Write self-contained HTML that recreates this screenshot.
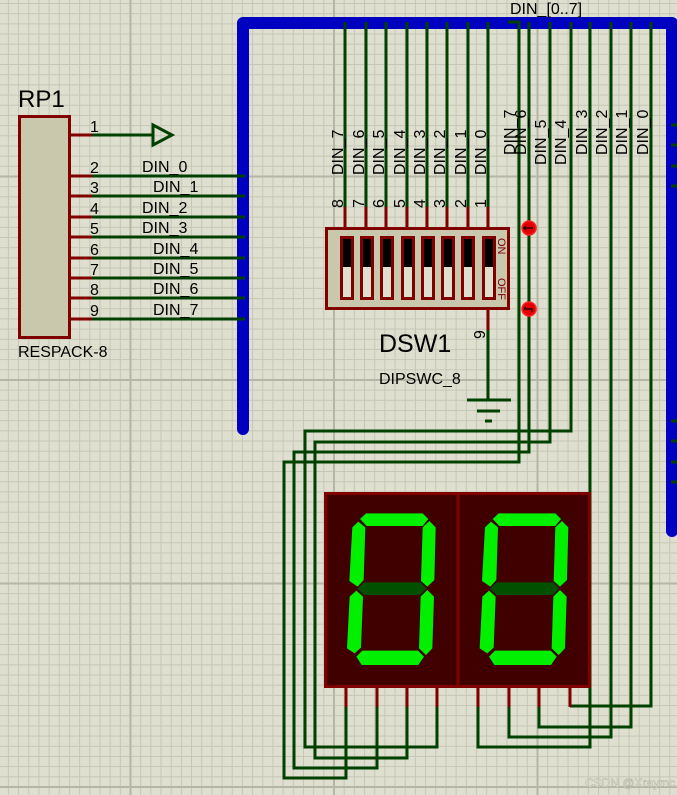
<!DOCTYPE html>
<html><head><meta charset="utf-8"><style>
html,body{margin:0;padding:0;background:#dfdfd0;}
svg{display:block;}
text{font-family:"Liberation Sans",Arial,sans-serif;fill:#000;}
</style></head><body>
<svg width="677" height="795" viewBox="0 0 677 795" xmlns="http://www.w3.org/2000/svg">
<defs>
<pattern id="mn" patternUnits="userSpaceOnUse" x="7.9" y="3" width="10.175" height="10.175">
<path d="M0.5 0V10.175M0 0.5H10.175" stroke="#c6c6b6" stroke-width="1" fill="none"/>
</pattern>
<pattern id="mj" patternUnits="userSpaceOnUse" x="129.5" y="175.5" width="203.5" height="203.5">
<path d="M1 0V203.5M0 1H203.5" stroke="#b6b6a6" stroke-width="2" fill="none"/>
</pattern>
</defs>
<rect width="677" height="795" fill="#dfdfd0"/>
<rect width="677" height="795" fill="url(#mn)"/>
<rect width="677" height="795" fill="url(#mj)"/>

<!-- bus -->
<path d="M243 429 L243 23 L672 23 L672 531" stroke="#0000c0" stroke-width="12" fill="none" stroke-linejoin="round" stroke-linecap="round"/>
<text x="510" y="14" font-size="16">DIN_[0..7]</text>

<g stroke="#004000" stroke-width="3" fill="none">
<!-- right stubs -->
<path d="M671 125H677M671 145H677M671 166H677M671 186H677M671 421H677M671 441H677M671 462H677M671 482H677"/>
<!-- RP1 wires -->
<path d="M92 135H152"/>
<path d="M92 176H245M92 196H245M92 217H245M92 237H245M92 258H245M92 278H245M92 298H245M92 319H245"/>
<!-- DSW top wires -->
<path d="M345 22V207M366 22V207M386 22V207M407 22V207M427 22V207M447 22V207M468 22V207M488 22V207"/>
<!-- ground -->
<path d="M488 330V400M467 400H511M477 411H500M485 421H492"/>
<!-- right group -->
<path d="M508 22H519V462H284V778H346V707"/>
<path d="M529 22V452H294V768H377V707"/>
<path d="M550 22V442H315V758H407V707"/>
<path d="M571 22V431H305V747H437V707"/>
<path d="M590 22V747H478V707"/>
<path d="M611 22V737H509V707"/>
<path d="M631 22V727H539V707"/>
<path d="M651 22V706H570"/>
</g>
<!-- arrow -->
<path d="M153 125L172 135L153 145Z" fill="none" stroke="#004000" stroke-width="3" stroke-linejoin="miter"/>

<!-- RP1 -->
<rect x="19.5" y="116.5" width="50" height="221" fill="#c9c8ad" stroke="#800000" stroke-width="3"/>
<g stroke="#800000" stroke-width="3">
<path d="M71 135H92M71 176H92M71 196H92M71 217H92M71 237H92M71 258H92M71 278H92M71 298H92M71 319H92"/>
</g>
<text x="18" y="107" font-size="24">RP1</text>
<text x="18" y="357" font-size="16">RESPACK-8</text>
<g font-size="16">
<text x="90" y="132">1</text>
<text x="90" y="173">2</text><text x="90" y="193">3</text><text x="90" y="214">4</text><text x="90" y="234">5</text>
<text x="90" y="255">6</text><text x="90" y="275">7</text><text x="90" y="295">8</text><text x="90" y="316">9</text>
<text x="142" y="172">DIN_0</text><text x="153" y="192">DIN_1</text><text x="142" y="213">DIN_2</text><text x="142" y="233">DIN_3</text>
<text x="153" y="254">DIN_4</text><text x="153" y="274">DIN_5</text><text x="153" y="294">DIN_6</text><text x="153" y="315">DIN_7</text>
</g>

<!-- DSW labels -->
<g font-size="16">
<text transform="translate(343,175) rotate(-90)">DIN_7</text>
<text transform="translate(364,175) rotate(-90)">DIN_6</text>
<text transform="translate(384,175) rotate(-90)">DIN_5</text>
<text transform="translate(405,175) rotate(-90)">DIN_4</text>
<text transform="translate(425,175) rotate(-90)">DIN_3</text>
<text transform="translate(445,175) rotate(-90)">DIN_2</text>
<text transform="translate(466,175) rotate(-90)">DIN_1</text>
<text transform="translate(486,175) rotate(-90)">DIN_0</text>
<text transform="translate(343,208) rotate(-90)">8</text>
<text transform="translate(364,208) rotate(-90)">7</text>
<text transform="translate(384,208) rotate(-90)">6</text>
<text transform="translate(405,208) rotate(-90)">5</text>
<text transform="translate(425,208) rotate(-90)">4</text>
<text transform="translate(445,208) rotate(-90)">3</text>
<text transform="translate(466,208) rotate(-90)">2</text>
<text transform="translate(486,208) rotate(-90)">1</text>
<text transform="translate(515,155) rotate(-90)">DIN_7</text>
<text transform="translate(526,155) rotate(-90)">DIN_6</text>
<text transform="translate(546,165) rotate(-90)">DIN_5</text>
<text transform="translate(566,165) rotate(-90)">DIN_4</text>
<text transform="translate(587,155) rotate(-90)">DIN_3</text>
<text transform="translate(607,155) rotate(-90)">DIN_2</text>
<text transform="translate(627,155) rotate(-90)">DIN_1</text>
<text transform="translate(648,155) rotate(-90)">DIN_0</text>
<text transform="translate(485,339) rotate(-90)">9</text>
</g>

<!-- DSW -->
<g stroke="#800000" stroke-width="3">
<path d="M345 207V227M366 207V227M386 207V227M407 207V227M427 207V227M447 207V227M468 207V227M488 207V227M488 309V330"/>
</g>
<rect x="326.5" y="228.5" width="182" height="80" fill="#c9c8ad" stroke="#800000" stroke-width="3"/>
<g stroke="#800000" stroke-width="3">
<rect x="341.5" y="237.5" width="11" height="61" fill="#dfdfd0"/>
<rect x="361.5" y="237.5" width="11" height="61" fill="#dfdfd0"/>
<rect x="381.5" y="237.5" width="11" height="61" fill="#dfdfd0"/>
<rect x="402.5" y="237.5" width="11" height="61" fill="#dfdfd0"/>
<rect x="422.5" y="237.5" width="11" height="61" fill="#dfdfd0"/>
<rect x="442.5" y="237.5" width="11" height="61" fill="#dfdfd0"/>
<rect x="462.5" y="237.5" width="11" height="61" fill="#dfdfd0"/>
<rect x="483.5" y="237.5" width="11" height="61" fill="#dfdfd0"/>
</g>
<g fill="#000">
<rect x="343" y="239" width="8" height="28"/><rect x="363" y="239" width="8" height="28"/>
<rect x="383" y="239" width="8" height="28"/><rect x="404" y="239" width="8" height="28"/>
<rect x="424" y="239" width="8" height="28"/><rect x="444" y="239" width="8" height="28"/>
<rect x="464" y="239" width="8" height="28"/><rect x="485" y="239" width="8" height="28"/>
</g>
<text transform="translate(498,238) rotate(90)" font-size="11" style="fill:#800000">ON</text>
<text transform="translate(498,278) rotate(90)" font-size="11" style="fill:#800000">OFF</text>
<text x="379" y="352" font-size="25">DSW1</text>
<text x="379" y="384" font-size="16">DIPSWC_8</text>

<!-- probes -->
<circle cx="529" cy="228" r="7" fill="#e00000" stroke="#ff2020" stroke-width="1.5"/>
<path d="M524 228H533M526 226L524 228L526 230" stroke="#300000" stroke-width="1.5" fill="none"/>
<circle cx="529" cy="309" r="7" fill="#e00000" stroke="#ff2020" stroke-width="1.5"/>
<path d="M524 309H532V312M526 307L524 309" stroke="#300000" stroke-width="1.5" fill="none"/>

<!-- display -->
<g stroke="#800000" stroke-width="3">
<path d="M346 688V707M377 688V707M407 688V707M437 688V707M478 688V707M509 688V707M539 688V707M570 688V707"/>
</g>
<rect x="325.5" y="493.5" width="264" height="193" fill="#400000" stroke="#800000" stroke-width="3"/>
<path d="M458 493V687" stroke="#800000" stroke-width="3"/>
<g transform="translate(270,400) scale(0.33333)">
<g id="dg">
<polygon fill="#00f000" points="270,357 288,340 458,340 475,357 458,378 290,378"/>
<polygon fill="#00f000" points="247,382 265,365 286,382 281,540 263,560 238,543"/>
<polygon fill="#00f000" points="458,382 478,363 497,382 493,540 472,560 453,543"/>
<polygon fill="#005000" points="262,566 282,547 452,547 469,566 450,585 282,585"/>
<polygon fill="#00f000" points="239,590 259,572 279,590 273,743 254,760 231,745"/>
<polygon fill="#00f000" points="452,590 472,570 492,590 487,745 468,765 447,745"/>
<polygon fill="#00f000" points="259,770 277,752 444,752 462,770 445,795 275,795"/>
</g>
<use href="#dg" transform="translate(398,0)"/>
</g>

<text x="585" y="787" font-size="12" style="fill:#f4f4ec;stroke:#b0b0a0;stroke-width:0.5">CSDN @Xraymc</text>
</svg>
</body></html>
